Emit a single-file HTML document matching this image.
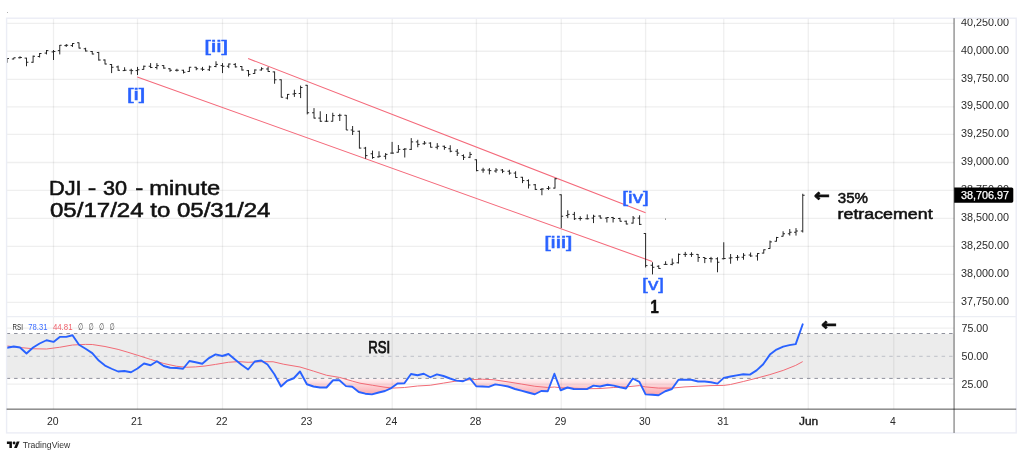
<!DOCTYPE html>
<html lang="en"><head><meta charset="utf-8"><title>DJI - 30 - minute</title>
<style>html,body{margin:0;padding:0;background:#fff}body{width:1023px;height:457px;overflow:hidden}text{white-space:pre}</style>
</head><body>
<svg width="1023" height="457" viewBox="0 0 1023 457" style="display:block">
<defs>
<clipPath id="cpMain"><rect x="6.6" y="18.2" width="947.5" height="298.40000000000003"/></clipPath>
<clipPath id="cpAxis"><rect x="954.1" y="18.8" width="62.10000000000002" height="391.0"/></clipPath>
<clipPath id="cpOS"><rect x="6.6" y="378.4" width="947.5" height="30.80000000000001"/></clipPath>
<linearGradient id="gOS" gradientUnits="userSpaceOnUse" x1="0" y1="378.4" x2="0" y2="398.4"><stop offset="0" stop-color="#f7525f" stop-opacity="0.06"/><stop offset="1" stop-color="#f7525f" stop-opacity="0.62"/></linearGradient>
</defs>
<rect width="1023" height="457" fill="#fff"/>
<rect x="7" y="12" width="1" height="1" fill="#b0b0b0"/>
<rect x="6.6" y="333.9" width="947.5" height="44.49999999999998" fill="#ececec"/>
<g stroke="#000" stroke-opacity="0.062" stroke-width="1.35" fill="none">
<path d="M6.6 23.4H954.1"/>
<path d="M6.6 51.25H954.1"/>
<path d="M6.6 79.4H954.1"/>
<path d="M6.6 106.9H954.1"/>
<path d="M6.6 134.4H954.1"/>
<path d="M6.6 162.5H954.1"/>
<path d="M6.6 190.4H954.1"/>
<path d="M6.6 218.4H954.1"/>
<path d="M6.6 246.4H954.1"/>
<path d="M6.6 274.4H954.1"/>
<path d="M6.6 302.4H954.1"/>
<path d="M6.6 328.1H954.1"/>
<path d="M6.6 384.1H954.1"/>
<path d="M53.5 18.2V409.2"/>
<path d="M137.5 18.2V409.2"/>
<path d="M222.5 18.2V409.2"/>
<path d="M307.4 18.2V409.2"/>
<path d="M392.2 18.2V409.2"/>
<path d="M476.4 18.2V409.2"/>
<path d="M561.25 18.2V409.2"/>
<path d="M645.6 18.2V409.2"/>
<path d="M723.75 18.2V409.2"/>
<path d="M808.3 18.2V409.2"/>
<path d="M893.75 18.2V409.2"/>
</g>
<polygon clip-path="url(#cpOS)" fill="url(#gOS)" points="7.1,378.4 7.1,347.75 13.75,346.5 20,347.5 26.5,353.5 33.1,347.5 39.6,343.5 46.5,340.25 53.5,341.9 59.75,336.9 66.25,336.9 72.5,335.25 79,344.75 85.6,348.75 92.25,353.1 98.75,360.6 105,365.6 111.6,368.75 118.1,371.5 124.4,371 131,372.25 137.5,368.5 144,363.5 150.6,365.25 156.9,361.25 163.75,366 170,367.75 176.5,368 183.1,368.75 189.4,361 195.6,362.25 202.25,363.75 209,358.1 215.6,354.4 222.25,356 228.5,354 235,359.4 241.5,364.75 248.1,369.5 254.75,361.5 261.25,360.5 267.5,364.5 274.4,374.25 281,386.5 287.25,380.75 293.75,378.25 300,371.5 306.9,384.25 313.5,386.5 320,387.5 326.5,387.5 333.1,380.25 339.4,380.25 346,386.1 352.25,386.75 358.75,392 365.3,393.7 371.9,394.4 378.75,392.5 385,391 391.25,388.1 397.5,383.5 404.4,383.25 411,374 417.5,375.25 423.75,373.75 430.25,377.25 436.9,374.4 443.5,376 450,378.5 456.5,380.6 463.1,381.25 469.75,378.1 476.25,386.25 482.5,386.5 488.75,386.9 495.25,384.4 501.9,385.4 508.1,386.5 515,389 521.25,390.6 528.1,392.5 534.75,394.25 541.25,391 547.75,391.25 554.4,373.75 560.6,390.25 567.5,387.5 573.75,389 580.6,389.1 586.9,389.1 593.5,385.6 600,386.5 607.5,384.75 613.75,385.6 620,387.25 626,388.5 632.75,378.5 639.4,381.9 645.6,394.4 652.25,394.75 658.5,395.25 665.25,391.25 671.9,389 678.5,379.75 685,379.75 691.25,379.75 698.1,381.5 704.75,381.5 711,382.25 717.5,383.6 723.8,377.9 730.5,376.5 736.6,375.4 743.3,374.2 749.9,374.6 756.6,370.4 763.2,364.2 769.9,354.6 776.5,349.6 783.2,346.6 789.4,345.1 795.7,344.1 802.7,324.3 802.7,378.4"/>
<path d="M6.6 333.5H954.1M6.6 378.4H954.1" stroke="#8f919c" stroke-width="1.0" stroke-dasharray="3.5 3.98" fill="none"/>
<path d="M6.6 356.3H954.1" stroke="#bfc1c8" stroke-width="1.0" stroke-dasharray="3.5 3.98" fill="none"/>
<polyline fill="none" stroke="#f26b76" stroke-width="1" stroke-linejoin="round" points="7.1,346 20,347.5 33.1,348.75 46.5,349 59.75,347.25 72.5,345 85.6,344.4 92.25,344.5 105,346.5 118.1,349.4 127.9,352.25 137.5,355.25 150.6,359.4 163.75,363.5 176.5,366.25 186.25,367.25 195.6,366.9 205,366 215.6,364.4 228.5,362.25 238.75,361.6 248.1,362.3 261.25,361.75 273.1,361.75 283.75,364.25 300,367 313.5,371.1 326.5,375.25 339.4,377.4 352.25,381.1 360,383.2 372.5,385.25 385,387.25 392.5,388.1 404.4,387.5 417.5,386 430.25,385.25 443.5,383.1 456.5,381 469.75,379.75 482.5,379.2 493.75,379.75 508.1,381.9 521.25,384 534.75,386.25 547.75,387.5 554.4,387 560.6,387.75 573.75,388.25 586.9,388.75 600,388.5 613.75,387.5 626,386.9 639.4,385.6 645.6,386.9 658.5,388.1 671.9,388.1 685,386.9 698.1,386.25 711,385.6 723.8,385.4 730.5,384.5 743.3,381.5 756.6,378.2 769.9,374.6 783.2,370.4 795.7,365.4 802.7,361.6"/>
<polyline fill="none" stroke="#2962ff" stroke-width="1.9" stroke-linejoin="round" stroke-linecap="round" points="7.1,347.75 13.75,346.5 20,347.5 26.5,353.5 33.1,347.5 39.6,343.5 46.5,340.25 53.5,341.9 59.75,336.9 66.25,336.9 72.5,335.25 79,344.75 85.6,348.75 92.25,353.1 98.75,360.6 105,365.6 111.6,368.75 118.1,371.5 124.4,371 131,372.25 137.5,368.5 144,363.5 150.6,365.25 156.9,361.25 163.75,366 170,367.75 176.5,368 183.1,368.75 189.4,361 195.6,362.25 202.25,363.75 209,358.1 215.6,354.4 222.25,356 228.5,354 235,359.4 241.5,364.75 248.1,369.5 254.75,361.5 261.25,360.5 267.5,364.5 274.4,374.25 281,386.5 287.25,380.75 293.75,378.25 300,371.5 306.9,384.25 313.5,386.5 320,387.5 326.5,387.5 333.1,380.25 339.4,380.25 346,386.1 352.25,386.75 358.75,392 365.3,393.7 371.9,394.4 378.75,392.5 385,391 391.25,388.1 397.5,383.5 404.4,383.25 411,374 417.5,375.25 423.75,373.75 430.25,377.25 436.9,374.4 443.5,376 450,378.5 456.5,380.6 463.1,381.25 469.75,378.1 476.25,386.25 482.5,386.5 488.75,386.9 495.25,384.4 501.9,385.4 508.1,386.5 515,389 521.25,390.6 528.1,392.5 534.75,394.25 541.25,391 547.75,391.25 554.4,373.75 560.6,390.25 567.5,387.5 573.75,389 580.6,389.1 586.9,389.1 593.5,385.6 600,386.5 607.5,384.75 613.75,385.6 620,387.25 626,388.5 632.75,378.5 639.4,381.9 645.6,394.4 652.25,394.75 658.5,395.25 665.25,391.25 671.9,389 678.5,379.75 685,379.75 691.25,379.75 698.1,381.5 704.75,381.5 711,382.25 717.5,383.6 723.8,377.9 730.5,376.5 736.6,375.4 743.3,374.2 749.9,374.6 756.6,370.4 763.2,364.2 769.9,354.6 776.5,349.6 783.2,346.6 789.4,345.1 795.7,344.1 802.7,324.3"/>
<path d="M137.25 76.9L652.25 261.5M248.1 58.5L645.6 212.75" stroke="#f4697a" stroke-width="1.05" fill="none"/>
<path clip-path="url(#cpMain)" d="M7.1 58.1V62.75M7.1 58.5H9.0M13.75 57.75V59.4M11.85 59H13.75M13.75 57.75H15.65M20 56.25V58.5M18.1 57.75H20M20 57.5H21.9M26.5 57.75V66.25M24.6 58.1H26.5M26.5 62.25H28.4M33.1 55.6V62.75M31.200000000000003 62.25H33.1M33.1 56.25H35.0M39.6 53.1V57.5M37.7 56.5H39.6M39.6 53.5H41.5M46.5 50V54.4M44.6 53.1H46.5M46.5 50.6H48.4M53.5 50V60M51.6 51.9H53.5M53.5 51.5H55.4M59.75 45V54.4M57.85 50.6H59.75M59.75 45.25H61.65M66.25 44V46.9M64.35 45.6H66.25M66.25 45.25H68.15M72.5 43.1V46.9M70.6 45.6H72.5M72.5 43.5H74.4M79 42.5V48.5M77.1 42.75H79M79 48.1H80.9M85.6 47.75V51.5M83.69999999999999 48.75H85.6M85.6 51H87.5M92.25 51V54.4M90.35 51.5H92.25M92.25 54H94.15M98.75 51.9V60.6M96.85 52.5H98.75M98.75 60H100.65M105 59.4V64.4M103.1 60H105M105 64H106.9M111.6 64V73.1M109.69999999999999 64.5H111.6M111.6 67.25H113.5M118.1 65.6V70.8M116.19999999999999 66.9H118.1M118.1 70.25H120.0M124.6 67.25V71M122.69999999999999 70.6H124.6M124.6 70.25H126.5M131.25 68.75V74.4M129.35 70.25H131.25M131.25 70.6H133.15M137.5 66.9V75M135.6 70.6H137.5M137.5 69.75H139.4M143.75 65.6V69.75M141.85 69.4H143.75M143.75 66.25H145.65M150.6 63.1V68.1M148.7 66.25H150.6M150.6 67.5H152.5M156.9 63.1V69.4M155.0 67.5H156.9M156.9 65.6H158.8M163.75 65V68.75M161.85 65.6H163.75M163.75 68.1H165.65M170 68.1V71.9M168.1 68.75H170M170 70.25H171.9M176.9 68.75V71.5M175.0 70.25H176.9M176.9 70.25H178.8M183.5 69.75V73.5M181.6 70.25H183.5M183.5 72.25H185.4M189.4 66.9V71.9M187.5 71.5H189.4M189.4 67.25H191.3M196.25 66.9V70.25M194.35 67.25H196.25M196.25 68.75H198.15M202.5 66.9V71M200.6 69H202.5M202.5 69.4H204.4M209.4 65.6V71M207.5 69.75H209.4M209.4 66.9H211.3M216 61.25V67.25M214.1 66.5H216M216 64.4H217.9M222.5 63.1V73.1M220.6 65.6H222.5M222.5 66.25H224.4M228.75 63.5V68.1M226.85 66.25H228.75M228.75 64H230.65M235.3 63.1V67.5M233.4 64.4H235.3M235.3 66.9H237.20000000000002M241.9 66V70.6M240.0 66.5H241.9M241.9 70H243.8M248.5 70V76.5M246.6 70.6H248.5M248.5 74.4H250.4M254.75 69.4V74M252.85 73.5H254.75M254.75 70H256.65M261.5 67.25V70.6M259.6 70H261.5M261.5 68.75H263.4M268.1 66.9V71.9M266.20000000000005 69H268.1M268.1 71.5H270.0M274.6 71.5V83.75M272.70000000000005 71.9H274.6M274.6 79.75H276.5M281.25 79.4V97.5M279.35 79.75H281.25M281.25 97.25H283.15M287.5 94V99.4M285.6 98.1H287.5M287.5 94.4H289.4M294.4 89.75V96.9M292.5 94H294.4M294.4 93.5H296.29999999999995M300.6 85.6V98.1M298.70000000000005 93.5H300.6M300.6 87.5H302.5M307.25 85V114.4M305.35 85.25H307.25M307.25 112.75H309.15M314 108.1V118.5M312.1 112.75H314M314 118.1H315.9M320.25 111.25V121.9M318.35 118.1H320.25M320.25 121.25H322.15M326.5 114V121.9M324.6 121.25H326.5M326.5 121.25H328.4M332.75 112.75V121.5M330.85 121.25H332.75M332.75 115.6H334.65M339.75 113.75V121M337.85 115.6H339.75M339.75 115.25H341.65M346.25 115V130M344.35 115.25H346.25M346.25 130H348.15M352.6 126V135M350.70000000000005 130H352.6M352.6 131.25H354.5M359.4 130.6V148.5M357.5 131.25H359.4M359.4 148.1H361.29999999999995M365.6 146.9V158.75M363.70000000000005 148.1H365.6M365.6 155.6H367.5M372.5 150.6V158.75M370.6 153.75H372.5M372.5 157.5H374.4M379 151.25V157.5M377.1 156.9H379M379 156.25H380.9M385.6 153.1V159.4M383.70000000000005 156.25H385.6M385.6 154.4H387.5M392.1 141.9V153.75M390.20000000000005 153.1H392.1M392.1 153.1H394.0M398.4 145V152.5M396.5 152.25H398.4M398.4 149.4H400.29999999999995M404.75 148.1V157.5M402.85 149.4H404.75M404.75 149H406.65M411.25 138.1V150M409.35 149.4H411.25M411.25 141.9H413.15M417.75 139.75V147.25M415.85 141.9H417.75M417.75 144.4H419.65M424.4 141V144.75M422.5 143.75H424.4M424.4 143.1H426.29999999999995M430.6 142.25V147.5M428.70000000000005 143.1H430.6M430.6 147.25H432.5M437.25 143.1V149.4M435.35 147.25H437.25M437.25 146.25H439.15M444.4 145.6V149.75M442.5 146.25H444.4M444.4 147.5H446.29999999999995M450.25 145.25V152.25M448.35 148.75H450.25M450.25 151.25H452.15M457.25 149V156M455.35 151.25H457.25M457.25 153.1H459.15M463.5 154.4V160M461.6 155.6H463.5M463.5 157.25H465.4M470 151.9V158.1M468.1 157.25H470M470 154.4H471.9M476.5 159.4V171.25M474.6 159.75H476.5M476.5 170.6H478.4M483.1 167.75V172.75M481.20000000000005 170H483.1M483.1 170H485.0M489.4 168.1V174.4M487.5 170H489.4M489.4 170.6H491.29999999999995M496 168.1V172.75M494.1 171H496M496 170H497.9M502.5 169V173.1M500.6 170H502.5M502.5 171.25H504.4M509.4 169.75V174.75M507.5 171.25H509.4M509.4 173.1H511.29999999999995M515.6 171.25V177.75M513.7 173.1H515.6M515.6 177.5H517.5M522.5 176.9V183.1M520.6 177.25H522.5M522.5 180.6H524.4M528.5 179.4V188.5M526.6 180.6H528.5M528.5 185H530.4M535.25 184V190M533.35 184.75H535.25M535.25 189.4H537.15M541.9 188.1V195.25M540.0 189.4H541.9M541.9 189H543.8M548.5 186V190M546.6 188.5H548.5M548.5 188.1H550.4M555 178.1V188.5M553.1 188.1H555M555 178.75H556.9M561.25 194.4V228.1M559.35 194.75H561.25M561.25 216.25H563.15M567.75 210.25V218.1M565.85 215.6H567.75M567.75 214.4H569.65M574.4 211.9V220M572.5 214.4H574.4M574.4 218.75H576.3M580.25 216.25V220.6M578.35 218.5H580.25M580.25 218.5H582.15M587.25 214.4V219.4M585.35 218.75H587.25M587.25 218.75H589.15M593.5 214.75V223.1M591.6 218.1H593.5M593.5 216.25H595.4M600.25 215.25V218.5M598.35 216H600.25M600.25 218.1H602.15M606.9 217.25V222.5M605.0 218.1H606.9M606.9 217.5H608.8M613.1 216.9V222.5M611.2 217.5H613.1M613.1 218.5H615.0M620 217.75V221.5M618.1 218.5H620M620 221.25H621.9M626.25 220.6V224.4M624.35 221.25H626.25M626.25 224H628.15M633.1 216V223.5M631.2 223.1H633.1M633.1 218.1H635.0M639.6 215.25V225M637.7 218.1H639.6M639.6 224.4H641.5M645.6 233.1V267.5M643.7 233.5H645.6M645.6 265.6H647.5M652.5 262.25V274.4M650.6 265.25H652.5M652.5 267.25H654.4M658.75 265.25V268.75M656.85 266.25H658.75M658.75 268.5H660.65M665.6 261.25V264.75M663.7 264.4H665.6M665.6 264.4H667.5M672.25 258.5V265.25M670.35 264.4H672.25M672.25 263.1H674.15M678.5 253.5V263.5M676.6 262.75H678.5M678.5 254.4H680.4M685.25 251.9V256.9M683.35 254.4H685.25M685.25 254.4H687.15M691.5 252.25V256.9M689.6 254.4H691.5M691.5 254.4H693.4M698.1 254V261.9M696.2 254.4H698.1M698.1 257.5H700.0M704.75 257.25V263.1M702.85 257.5H704.75M704.75 258.5H706.65M711 256.9V262.5M709.1 258.5H711M711 258.75H712.9M717.5 257.25V272.25M715.6 258.75H717.5M717.5 262.25H719.4M723.75 242.25V259.4M721.85 258.75H723.75M723.75 258.5H725.65M730.6 254V263.75M728.7 258.1H730.6M730.6 257.75H732.5M737.5 255V260.6M735.6 257.5H737.5M737.5 257.25H739.4M743.5 253.1V259.75M741.6 257.25H743.5M743.5 255.25H745.4M750.6 252.5V256.9M748.7 255H750.6M750.6 256H752.5M757.5 253.1V260.6M755.6 256H757.5M757.5 253.5H759.4M763.75 249.4V253.5M761.85 253.1H763.75M763.75 249.75H765.65M770 240.6V248.75M768.1 248.5H770M770 241.9H771.9M776.5 236.9V241.5M774.6 241.25H776.5M776.5 237.5H778.4M783.1 231.25V236.5M781.2 236.25H783.1M783.1 233.75H785.0M789.75 229V235.6M787.85 233.75H789.75M789.75 232.25H791.65M796 228.1V235.6M794.1 232.25H796M796 231H797.9M802.75 193.75V232.5M800.85 231H802.75M802.75 195.25H804.65" stroke="#1c1c1c" stroke-width="0.95" fill="none"/>
<rect x="665" y="218.6" width="1" height="1" fill="#555"/>
<path d="M6.6 316.6H1016.2" stroke="#eceef4" stroke-width="1.4" fill="none"/>
<rect x="6.6" y="18.2" width="1009.6" height="414.7" fill="none" stroke="#ebedf5" stroke-width="1.4"/>
<rect x="953.25" y="18.2" width="1.7" height="414.7" fill="#000" fill-opacity="0.36"/>
<rect x="6.6" y="408.45" width="1009.6" height="1.5" fill="#000" fill-opacity="0.46"/>
<g font-family="'Liberation Sans','DejaVu Sans',sans-serif">
<g clip-path="url(#cpAxis)">
<text x="960.9" y="25.7" font-size="10.5" font-weight="400" fill="#2a2a2a" text-anchor="start" textLength="48.1" lengthAdjust="spacingAndGlyphs">40,250.00</text>
<text x="960.9" y="53.550000000000004" font-size="10.5" font-weight="400" fill="#2a2a2a" text-anchor="start" textLength="48.1" lengthAdjust="spacingAndGlyphs">40,000.00</text>
<text x="960.9" y="81.7" font-size="10.5" font-weight="400" fill="#2a2a2a" text-anchor="start" textLength="48.1" lengthAdjust="spacingAndGlyphs">39,750.00</text>
<text x="960.9" y="109.2" font-size="10.5" font-weight="400" fill="#2a2a2a" text-anchor="start" textLength="48.1" lengthAdjust="spacingAndGlyphs">39,500.00</text>
<text x="960.9" y="136.7" font-size="10.5" font-weight="400" fill="#2a2a2a" text-anchor="start" textLength="48.1" lengthAdjust="spacingAndGlyphs">39,250.00</text>
<text x="960.9" y="164.79999999999998" font-size="10.5" font-weight="400" fill="#2a2a2a" text-anchor="start" textLength="48.1" lengthAdjust="spacingAndGlyphs">39,000.00</text>
<text x="960.9" y="192.7" font-size="10.5" font-weight="400" fill="#2a2a2a" text-anchor="start" textLength="48.1" lengthAdjust="spacingAndGlyphs">38,750.00</text>
<text x="960.9" y="220.7" font-size="10.5" font-weight="400" fill="#2a2a2a" text-anchor="start" textLength="48.1" lengthAdjust="spacingAndGlyphs">38,500.00</text>
<text x="960.9" y="248.7" font-size="10.5" font-weight="400" fill="#2a2a2a" text-anchor="start" textLength="48.1" lengthAdjust="spacingAndGlyphs">38,250.00</text>
<text x="960.9" y="276.7" font-size="10.5" font-weight="400" fill="#2a2a2a" text-anchor="start" textLength="48.1" lengthAdjust="spacingAndGlyphs">38,000.00</text>
<text x="960.9" y="304.7" font-size="10.5" font-weight="400" fill="#2a2a2a" text-anchor="start" textLength="48.1" lengthAdjust="spacingAndGlyphs">37,750.00</text>
</g>
<text x="961.6" y="331.70000000000005" font-size="10.5" font-weight="400" fill="#2a2a2a" text-anchor="start" textLength="26.6" lengthAdjust="spacingAndGlyphs">75.00</text>
<text x="961.6" y="359.85" font-size="10.5" font-weight="400" fill="#2a2a2a" text-anchor="start" textLength="26.6" lengthAdjust="spacingAndGlyphs">50.00</text>
<text x="961.6" y="387.8" font-size="10.5" font-weight="400" fill="#2a2a2a" text-anchor="start" textLength="26.6" lengthAdjust="spacingAndGlyphs">25.00</text>
<path d="M954.2 187.5H1011.7Q1013.3 187.5 1013.3 189.1V201.1Q1013.3 202.7 1011.7 202.7H954.2Z" fill="#000"/>
<text x="960.9" y="198.5" font-size="10.5" font-weight="400" fill="#fff" text-anchor="start" textLength="48.2" lengthAdjust="spacingAndGlyphs" stroke="#fff" stroke-width="0.25">38,706.97</text>
<text x="52.7" y="425" font-size="10.7" font-weight="400" fill="#2a2a2a" text-anchor="middle" textLength="11.6" lengthAdjust="spacingAndGlyphs">20</text>
<text x="136.7" y="425" font-size="10.7" font-weight="400" fill="#2a2a2a" text-anchor="middle" textLength="11.6" lengthAdjust="spacingAndGlyphs">21</text>
<text x="221.7" y="425" font-size="10.7" font-weight="400" fill="#2a2a2a" text-anchor="middle" textLength="11.6" lengthAdjust="spacingAndGlyphs">22</text>
<text x="306.59999999999997" y="425" font-size="10.7" font-weight="400" fill="#2a2a2a" text-anchor="middle" textLength="11.6" lengthAdjust="spacingAndGlyphs">23</text>
<text x="391.4" y="425" font-size="10.7" font-weight="400" fill="#2a2a2a" text-anchor="middle" textLength="11.6" lengthAdjust="spacingAndGlyphs">24</text>
<text x="475.59999999999997" y="425" font-size="10.7" font-weight="400" fill="#2a2a2a" text-anchor="middle" textLength="11.6" lengthAdjust="spacingAndGlyphs">28</text>
<text x="560.45" y="425" font-size="10.7" font-weight="400" fill="#2a2a2a" text-anchor="middle" textLength="11.6" lengthAdjust="spacingAndGlyphs">29</text>
<text x="644.8000000000001" y="425" font-size="10.7" font-weight="400" fill="#2a2a2a" text-anchor="middle" textLength="11.6" lengthAdjust="spacingAndGlyphs">30</text>
<text x="722.95" y="425" font-size="10.7" font-weight="400" fill="#2a2a2a" text-anchor="middle" textLength="11.6" lengthAdjust="spacingAndGlyphs">31</text>
<text x="808.6" y="425" font-size="10.6" font-weight="400" fill="#222" text-anchor="middle" textLength="19.2" lengthAdjust="spacingAndGlyphs" stroke="#222" stroke-width="0.4">Jun</text>
<text x="892.95" y="425" font-size="10.7" font-weight="400" fill="#2a2a2a" text-anchor="middle" textLength="5.8" lengthAdjust="spacingAndGlyphs">4</text>
<text x="12.6" y="329.8" font-size="8.2" font-weight="400" fill="#2a2a2a" text-anchor="start" textLength="10.4" lengthAdjust="spacingAndGlyphs">RSI</text>
<text x="28.3" y="329.8" font-size="8.2" font-weight="400" fill="#3d6eff" text-anchor="start" textLength="19.2" lengthAdjust="spacingAndGlyphs">78.31</text>
<text x="52.9" y="329.8" font-size="8.2" font-weight="400" fill="#f0606b" text-anchor="start" textLength="19.6" lengthAdjust="spacingAndGlyphs">44.81</text>
<text x="78.1" y="330.3" font-size="9.6" font-weight="400" fill="#2a2a2a" text-anchor="start" textLength="5.0" lengthAdjust="spacingAndGlyphs">∅</text>
<text x="88.5" y="330.3" font-size="9.6" font-weight="400" fill="#2a2a2a" text-anchor="start" textLength="5.0" lengthAdjust="spacingAndGlyphs">∅</text>
<text x="99.0" y="330.3" font-size="9.6" font-weight="400" fill="#2a2a2a" text-anchor="start" textLength="5.0" lengthAdjust="spacingAndGlyphs">∅</text>
<text x="109.4" y="330.3" font-size="9.6" font-weight="400" fill="#2a2a2a" text-anchor="start" textLength="5.0" lengthAdjust="spacingAndGlyphs">∅</text>
<text x="48.9" y="195" font-size="20.6" font-weight="400" fill="#111" text-anchor="start" textLength="32.7" lengthAdjust="spacingAndGlyphs" stroke="#111" stroke-width="0.55">DJI</text>
<text x="87.85" y="195" font-size="20.6" font-weight="400" fill="#111" text-anchor="start" textLength="8.55" lengthAdjust="spacingAndGlyphs" stroke="#111" stroke-width="0.55">-</text>
<text x="102.95" y="195" font-size="20.6" font-weight="400" fill="#111" text-anchor="start" textLength="24.1" lengthAdjust="spacingAndGlyphs" stroke="#111" stroke-width="0.55">30</text>
<text x="135.35" y="195" font-size="20.6" font-weight="400" fill="#111" text-anchor="start" textLength="8.05" lengthAdjust="spacingAndGlyphs" stroke="#111" stroke-width="0.55">-</text>
<text x="149.2" y="195" font-size="20.6" font-weight="400" fill="#111" text-anchor="start" textLength="71.1" lengthAdjust="spacingAndGlyphs" stroke="#111" stroke-width="0.55">minute</text>
<text x="50" y="217" font-size="20.6" font-weight="400" fill="#111" text-anchor="start" textLength="220.5" lengthAdjust="spacingAndGlyphs" stroke="#111" stroke-width="0.55">05/17/24 to 05/31/24</text>
<text x="837.8" y="202.75" font-size="15.5" font-weight="400" fill="#111" text-anchor="start" textLength="30.2" lengthAdjust="spacingAndGlyphs" stroke="#111" stroke-width="0.55">35%</text>
<text x="837.6" y="218.6" font-size="15.5" font-weight="400" fill="#111" text-anchor="start" textLength="95" lengthAdjust="spacingAndGlyphs" stroke="#111" stroke-width="0.55">retracement</text>
<text x="368.3" y="353.0" font-size="15.9" font-weight="400" fill="#111" text-anchor="start" textLength="21.9" lengthAdjust="spacingAndGlyphs" stroke="#111" stroke-width="0.75">RSI</text>
<text x="650.2" y="312.75" font-size="17.8" font-weight="700" fill="#111" text-anchor="start" textLength="8.6" lengthAdjust="spacingAndGlyphs" stroke="#111" stroke-width="0.4">1</text>
<text x="126.93" y="100.15" font-size="15.6" font-weight="400" fill="#2962ff" text-anchor="start" textLength="18.5" lengthAdjust="spacingAndGlyphs" stroke="#2962ff" stroke-width="0.5">[i]</text>
<text x="204.37" y="52.2" font-size="15.6" font-weight="400" fill="#2962ff" text-anchor="start" textLength="23.9" lengthAdjust="spacingAndGlyphs" stroke="#2962ff" stroke-width="0.5">[ii]</text>
<text x="544.16" y="248.4" font-size="15.6" font-weight="400" fill="#2962ff" text-anchor="start" textLength="28.4" lengthAdjust="spacingAndGlyphs" stroke="#2962ff" stroke-width="0.5">[iii]</text>
<text x="622.35" y="203.2" font-size="15.6" font-weight="400" fill="#2962ff" text-anchor="start" textLength="26.45" lengthAdjust="spacingAndGlyphs" stroke="#2962ff" stroke-width="0.5">[iv]</text>
<text x="642.13" y="290.4" font-size="15.6" font-weight="400" fill="#2962ff" text-anchor="start" textLength="22.0" lengthAdjust="spacingAndGlyphs" stroke="#2962ff" stroke-width="0.4">[v]</text>
<text x="814.0" y="201.2" font-family="'DejaVu Sans',sans-serif" font-weight="700" font-size="17" fill="#111" stroke="#111" stroke-width="0.8" textLength="15.8" lengthAdjust="spacingAndGlyphs">←</text>
<text x="821.2" y="330.2" font-family="'DejaVu Sans',sans-serif" font-weight="700" font-size="16.5" fill="#111" stroke="#111" stroke-width="0.9" textLength="15.4" lengthAdjust="spacingAndGlyphs">←</text>
<g transform="translate(6.9 440.17) scale(0.358)" fill="#111"><path d="M14 22H7V11H0V4h14v18zM28 22h-8l7.5-18h8L28 22z"/><circle cx="20" cy="8" r="4"/></g>
<text x="22.7" y="448.1" font-size="8.9" font-weight="400" fill="#333" text-anchor="start" textLength="47.5" lengthAdjust="spacingAndGlyphs">TradingView</text>
</g>
</svg>
</body></html>
